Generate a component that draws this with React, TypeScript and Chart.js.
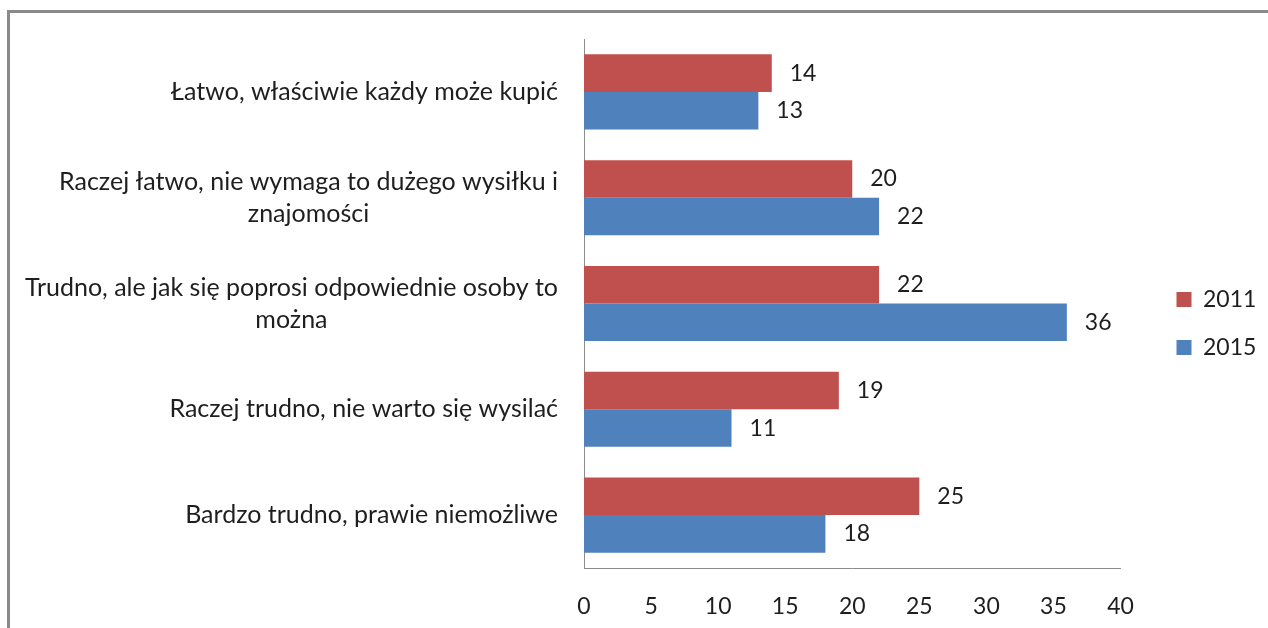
import React, { useEffect, useRef } from 'react';
import { Chart, registerables } from 'chart.js';

Chart.register(...registerables);

// ---- data ----
const categories: string[][] = [
  ['Łatwo, właściwie każdy może kupić'],
  ['Raczej łatwo, nie wymaga to dużego wysiłku i', 'znajomości'],
  ['Trudno, ale jak się poprosi odpowiednie osoby to', 'można'],
  ['Raczej trudno, nie warto się wysilać'],
  ['Bardzo trudno, prawie niemożliwe'],
];
const seriesNames = ['2011', '2015'];
const values2011 = [14, 20, 22, 19, 25];
const values2015 = [13, 22, 36, 11, 18];
const xMin = 0;
const xMax = 40;
const xStep = 5;

const RED = '#C0504D';
const BLUE = '#4F81BD';
const FONT_FAMILY = 'Lato, "Noto Sans", sans-serif';
const LABEL_SIZE = 25;
const NUM_SIZE = 23;
const TEXT_COLOR = '#1e1e1e';
const AXIS_COLOR = '#8c8c8c';
const FRAME_COLOR = '#8a8a8a';

const framePlugin = {
  id: 'frame',
  beforeDraw(chart: any) {
    const ctx = chart.ctx;
    ctx.save();
    ctx.fillStyle = '#ffffff';
    ctx.fillRect(0, 0, chart.width, chart.height);
    ctx.strokeStyle = FRAME_COLOR;
    ctx.lineWidth = 3;
    ctx.beginPath();
    ctx.moveTo(chart.width, 11.5);
    ctx.lineTo(8.5, 11.5);
    ctx.lineTo(8.5, chart.height);
    ctx.stroke();
    ctx.restore();
  },
};

const categoryLabelPlugin = {
  id: 'categoryLabels',
  afterDraw(chart: any) {
    const ctx = chart.ctx;
    const yScale = chart.scales.y;
    const rightX = chart.chartArea.left - 26;
    const lineH = 32;
    ctx.save();
    ctx.font = `${LABEL_SIZE}px ${FONT_FAMILY}`;
    ctx.fillStyle = TEXT_COLOR;
    ctx.textAlign = 'center';
    ctx.textBaseline = 'middle';
    categories.forEach((lines, i) => {
      const yc = yScale.getPixelForValue(i);
      const maxW = Math.max(...lines.map((l) => ctx.measureText(l).width));
      const cx = rightX - maxW / 2;
      lines.forEach((line, j) => {
        ctx.fillText(line, cx, yc + (j - (lines.length - 1) / 2) * lineH);
      });
    });
    ctx.restore();
  },
};

const valueLabelPlugin = {
  id: 'valueLabels',
  afterDatasetsDraw(chart: any) {
    const ctx = chart.ctx;
    ctx.save();
    ctx.font = `${NUM_SIZE}px ${FONT_FAMILY}`;
    ctx.fillStyle = TEXT_COLOR;
    ctx.textAlign = 'left';
    ctx.textBaseline = 'middle';
    chart.data.datasets.forEach((ds: any, di: number) => {
      const meta = chart.getDatasetMeta(di);
      meta.data.forEach((el: any, i: number) => {
        ctx.fillText(String(ds.data[i]), el.x + 18, el.y);
      });
    });
    ctx.restore();
  },
};

export default function App() {
  const canvasRef = useRef<HTMLCanvasElement | null>(null);

  useEffect(() => {
    if (!canvasRef.current) return;
    const chart = new Chart(canvasRef.current, {
      type: 'bar',
      data: {
        labels: categories.map((c) => c.join(' ')),
        datasets: [
          {
            label: seriesNames[0],
            data: values2011,
            backgroundColor: RED,
            borderWidth: 0,
            categoryPercentage: 0.71,
            barPercentage: 1,
          },
          {
            label: seriesNames[1],
            data: values2015,
            backgroundColor: BLUE,
            borderWidth: 0,
            categoryPercentage: 0.71,
            barPercentage: 1,
          },
        ],
      },
      options: {
        indexAxis: 'y',
        animation: false,
        responsive: true,
        maintainAspectRatio: false,
        layout: { padding: { left: 584, top: 39, bottom: 8, right: 3 } },
        plugins: {
          tooltip: { enabled: false },
          title: { display: false },
          legend: {
            display: true,
            position: 'right',
            fullSize: false,
            title: {
              display: true,
              text: '',
              font: { size: 10 },
              padding: 14,
            },
            labels: {
              boxWidth: 15,
              boxHeight: 15,
              padding: 25,
              color: TEXT_COLOR,
              font: { family: FONT_FAMILY, size: NUM_SIZE },
            },
          },
        },
        scales: {
          x: {
            type: 'linear',
            min: xMin,
            max: xMax,
            grid: { display: false, drawTicks: false },
            border: { display: true, color: AXIS_COLOR, width: 1 },
            ticks: {
              stepSize: xStep,
              padding: 25,
              color: TEXT_COLOR,
              font: { family: FONT_FAMILY, size: NUM_SIZE },
            },
            afterFit: (scale: any) => {
              scale.height = 52;
            },
          },
          y: {
            type: 'category',
            grid: { display: false, drawTicks: false },
            border: { display: true, color: AXIS_COLOR, width: 1 },
            ticks: { display: false },
          },
          gap: {
            type: 'linear',
            position: 'right',
            display: true,
            grid: { display: false, drawTicks: false },
            border: { display: false },
            ticks: { display: false },
            afterFit: (scale: any) => {
              scale.width = 31;
            },
          },
        },
      } as any,
      plugins: [framePlugin, categoryLabelPlugin, valueLabelPlugin],
    });
    return () => chart.destroy();
  }, []);

  return (
    <div style={{ position: 'fixed', left: 0, top: 0, width: 1268, height: 628, background: '#fff' }}>
      <canvas ref={canvasRef} />
    </div>
  );
}
